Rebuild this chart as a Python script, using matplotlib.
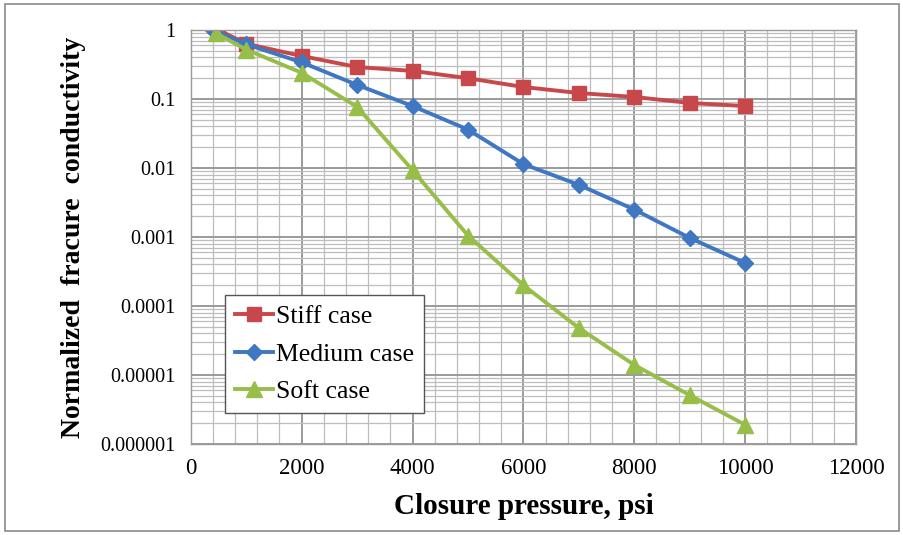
import matplotlib
matplotlib.use('Agg')
import matplotlib.pyplot as plt
import matplotlib as mpl
from matplotlib.ticker import MultipleLocator, LogLocator, FixedLocator, FixedFormatter
from matplotlib.patches import Rectangle

mpl.rcParams['font.family'] = 'Liberation Serif'

# closure pressure, psi
x_stiff = [500, 1000, 2000, 3000, 4000, 5000, 6000, 7000, 8000, 9000, 10000]
x_medium = [400, 1000, 2000, 3000, 4000, 5000, 6000, 7000, 8000, 9000, 10000]
x_soft = [450, 1000, 2000, 3000, 4000, 5000, 6000, 7000, 8000, 9000, 10000]

stiff = [1.0, 0.63, 0.42, 0.29, 0.255, 0.20, 0.149, 0.122, 0.107, 0.0875, 0.079]
medium = [1.0, 0.62, 0.34, 0.16, 0.079, 0.036, 0.0114, 0.0057, 0.0025, 0.00097, 0.00042]
soft = [0.9, 0.52, 0.24, 0.077, 0.0093, 0.00105, 0.0002, 4.8e-5, 1.4e-5, 5.1e-6, 1.9e-6]

y_ticks = [1, 0.1, 0.01, 0.001, 0.0001, 0.00001, 0.000001]
y_labels = ['1', '0.1', '0.01', '0.001', '0.0001', '0.00001', '0.000001']

fig = plt.figure(figsize=(9.04, 5.35), dpi=100)
ax = fig.add_axes([0.211, 0.170, 0.736, 0.774])

ax.set_yscale('log')
ax.set_xlim(0, 12000)
ax.set_ylim(1e-6, 1)

# excel style grid
ax.xaxis.set_major_locator(MultipleLocator(2000))
ax.xaxis.set_minor_locator(MultipleLocator(400))
ax.yaxis.set_major_locator(FixedLocator(y_ticks))
ax.yaxis.set_major_formatter(FixedFormatter(y_labels))
ax.yaxis.set_minor_locator(LogLocator(base=10, subs=range(2, 10), numticks=20))
ax.yaxis.set_minor_formatter(plt.NullFormatter())
ax.grid(which='major', color='#9a9a9a', linewidth=1.4)
ax.grid(which='minor', color='#bdbdbd', linewidth=0.9)
ax.set_axisbelow(True)
ax.tick_params(which='both', length=0)
ax.tick_params(axis='y', labelsize=14.5, pad=11)
ax.tick_params(axis='x', labelsize=16.5, pad=10)
for s in ax.spines.values():
    s.set_color('#9a9a9a')
    s.set_linewidth(1)

ax.plot(x_stiff, stiff, marker='s', markersize=10, color='#C8474A', linewidth=2.8, label='Stiff case')
ax.plot(x_medium, medium, marker='D', markersize=8, color='#3F77C2', linewidth=2.8, label='Medium case')
ax.plot(x_soft, soft, marker='^', markersize=11, color='#98BE4A', linewidth=2.8, label='Soft case')

ax.set_xlabel('Closure pressure, psi', fontsize=21, fontweight='bold', labelpad=10)
ax.set_ylabel('Normalized  fracure  conductivity', fontsize=20, fontweight='bold', labelpad=10)

leg = ax.legend(loc='lower left', bbox_to_anchor=(0.051, 0.075), fontsize=18.5,
                handlelength=1.5, handletextpad=0.1, labelspacing=0.55,
                fancybox=False, framealpha=1, edgecolor='#555555', borderpad=0.4,
                borderaxespad=0)
leg.get_frame().set_linewidth(1)

fig.patches.append(Rectangle((0.005, 0.008), 0.99, 0.984, transform=fig.transFigure,
                             fill=False, edgecolor='#8a8a8a', linewidth=1.2))

plt.savefig('out.png', dpi=100)
